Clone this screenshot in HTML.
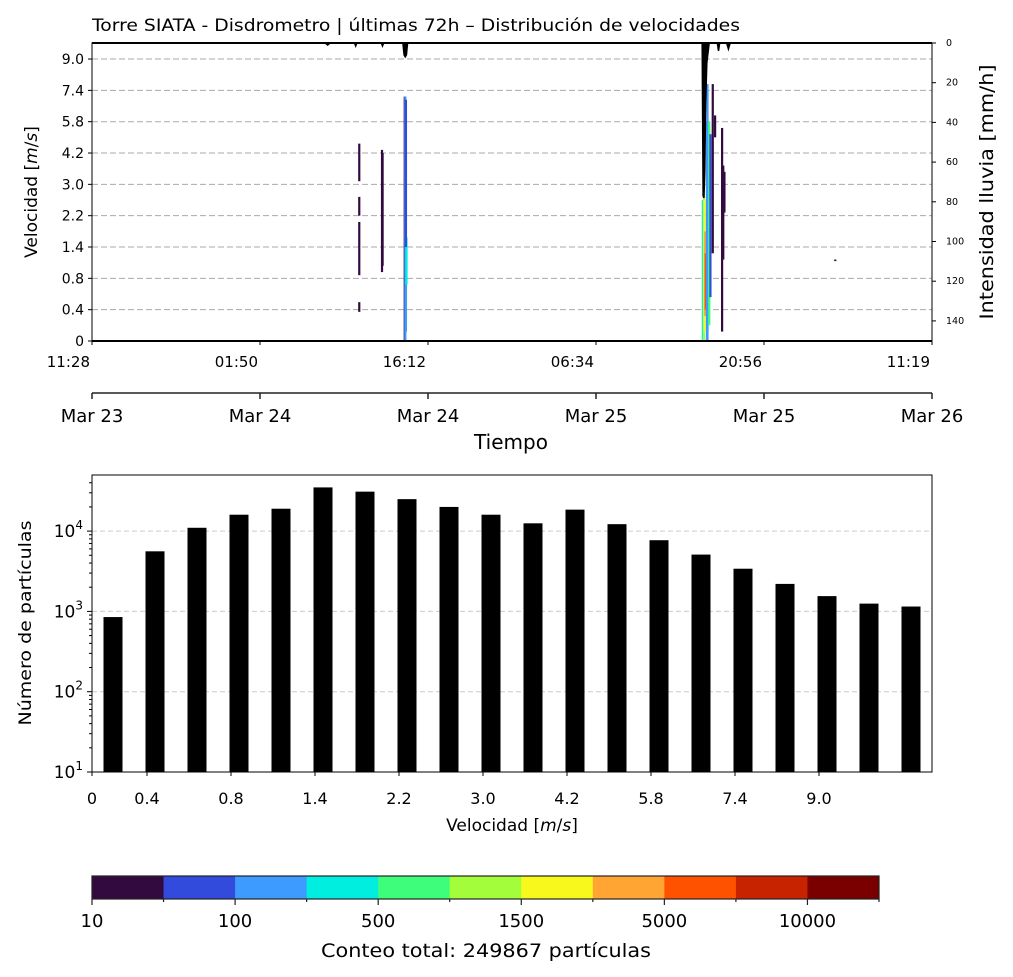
<!DOCTYPE html>
<html><head><meta charset="utf-8"><style>
html,body{margin:0;padding:0;background:#fff;}
svg{display:block;font-family:"DejaVu Sans","Liberation Sans",sans-serif;}
</style></head><body>
<svg id="fig" width="1013" height="977" viewBox="0 0 1013 977">
<g id="top"></g>
<g id="bot"></g>
<g id="cb"></g>
</svg>
<script>
// ---- data ----
const velBins = ["0","0.4","0.8","1.4","2.2","3.0","4.2","5.8","7.4","9.0"];
const rightTicks = [0,20,40,60,80,100,120,140];
const timeTicks = ["11:28","01:50","16:12","06:34","20:56","11:19"];
const dateTicks = ["Mar 23","Mar 24","Mar 24","Mar 25","Mar 25","Mar 26"];
// heatmap segments: hour (0..72), bin start, bin end (bin index), count
const segHour = [22.9,22.9,22.9,22.9,24.85,24.9,26.8,26.85,26.9,26.95,26.9,52.35,52.45,52.5,52.55,52.6,52.7,52.75,52.9,53.0,53.2,53.4,54.0,54.1,54.2,63.7];
const segLo   = [0.93,2.1,4.0,5.1,2.2,2.4,0,0,0.3,1.8,3.0,0,0,0.3,0.8,1.0,0,0,0.5,1.4,2.8,6.5,0.3,2.6,4.1,2.55];
const segHi   = [1.24,3.8,4.6,6.3,6.1,6.0,7.8,7.8,6.0,3.3,7.7,4.5,6.0,4.5,3.5,2.8,7.0,8.2,7.0,6.6,8.2,7.2,6.8,5.6,5.4,2.6];
const segCount= [20,20,20,20,20,20,20,120,150,300,60,300,1000,1600,3000,5500,200,150,600,50,40,20,20,20,20,20];
// rain intensity (mm/h) along time
const rainHour = [0,20,20.2,20.4,22.5,22.6,22.7,24.8,24.9,25,26.65,26.75,26.85,26.95,27.05,52.3,52.38,52.45,52.52,52.6,52.7,52.8,52.9,53.6,53.7,53.8,54.4,54.55,54.7,72];
const rainVal  = [0,0,1,0,0,1.5,0,0,1.5,0,0,6,7,6,0,0,77,78,65,30,10,5,0,0,4,0,0,3,0,0];
const histVals = [850,5600,11000,16000,19000,35000,31000,25000,20000,16000,12500,18500,12200,7700,5100,3400,2200,1550,1250,1150];
const histTickLabels = ["0","0.4","0.8","1.4","2.2","3.0","4.2","5.8","7.4","9.0"];
const cbColors = ["#330a3f","#334bdc","#3d9bff","#00eee0","#3efd7b","#a3fd3a","#f8f81c","#ffa533","#ff5200","#c72300","#7a0000"];
const cbLabels = ["10","100","500","1500","5000","10000"];
const cbLevels = [10,50,100,250,500,1000,1500,3000,5000,7500,10000];

const NS="http://www.w3.org/2000/svg";
function el(p,t,a,txt){const e=document.createElementNS(NS,t);for(const k in a)e.setAttribute(k,a[k]);if(txt!==undefined)e.textContent=txt;p.appendChild(e);return e;}

// ---- top chart ----
const T=document.getElementById('top');
const X0=92,X1=932,Y0=43,Y1=341;
const tx=h=>X0+h/72*(X1-X0);
const vy=b=>Y1-b*31.33;
const ry=v=>Y0+v*1.985;
velBins.forEach((lab,i)=>{
  const y=vy(i);
  if(i>0){const g=el(T,'line',{x1:X0,x2:X1,y1:y,y2:y,stroke:'#aaa','stroke-dasharray':'6,3','stroke-width':1});
  }
  el(T,'line',{x1:X0-4,x2:X0,y1:y,y2:y,stroke:'#000'});
  const t=el(T,'text',{x:X0-8,y:y+5,'text-anchor':'end','font-size':14},lab);
  
});
function colorFor(c){let k=0;for(let i=0;i<cbLevels.length;i++)if(c>=cbLevels[i])k=i;return cbColors[k];}
segHour.forEach((h,i)=>{
  const r=el(T,'rect',{x:tx(h)-1,width:2.2,y:vy(segHi[i]),height:vy(segLo[i])-vy(segHi[i]),fill:colorFor(segCount[i])});
  
});
let pts=rainHour.map((h,i)=>tx(h)+','+ry(rainVal[i])).join(' ');
const rl=el(T,'polyline',{points:pts,fill:'#000',stroke:'#000','stroke-width':1.5});

el(T,'rect',{x:X0,y:Y0,width:X1-X0,height:Y1-Y0,fill:'none',stroke:'#000','stroke-width':1});
el(T,'line',{x1:X0,x2:X1,y1:Y0,y2:Y0,stroke:'#000','stroke-width':2});
el(T,'line',{x1:X0,x2:X1,y1:Y1,y2:Y1,stroke:'#000','stroke-width':2});
rightTicks.forEach(v=>{const y=ry(v);el(T,'line',{x1:X1,x2:X1+4,y1:y,y2:y,stroke:'#000'});
  const t=el(T,'text',{x:X1+14,y:y+3,'font-size':9.5},v);});
timeTicks.forEach((l,i)=>{const xx=X0+i*(X1-X0)/5;
  el(T,'line',{x1:xx,x2:xx,y1:Y1,y2:Y1+4,stroke:'#000'});
  const t=el(T,'text',{x:xx-2,y:367,'text-anchor':'end','font-size':15},l);});
el(T,'line',{x1:X0,x2:X1,y1:393,y2:393,stroke:'#222','stroke-width':1.5});
dateTicks.forEach((l,i)=>{const x=X0+i*(X1-X0)/5;el(T,'line',{x1:x,x2:x,y1:393,y2:399,stroke:'#222','stroke-width':1.5});
  const t=el(T,'text',{x:x,y:422,'text-anchor':'middle','font-size':18},l);});
let t;
t=el(T,'text',{x:92,y:31,'font-size':17,textLength:648,lengthAdjust:'spacingAndGlyphs'},'Torre SIATA - Disdrometro | últimas 72h – Distribución de velocidades');
t=el(T,'text',{x:511,y:449,'text-anchor':'middle','font-size':20},'Tiempo');
t=el(T,'text',{x:0,y:0,'text-anchor':'middle','font-size':17,transform:'translate(37,192) rotate(-90)'});t.innerHTML='Velocidad [<tspan font-style="italic">m</tspan>/<tspan font-style="italic">s</tspan>]';
t=el(T,'text',{x:0,y:0,'text-anchor':'middle','font-size':19,transform:'translate(993,192) rotate(-90)',textLength:255,lengthAdjust:'spacingAndGlyphs'},'Intensidad lluvia [mm/h]');

// ---- histogram ----
const B=document.getElementById('bot');
const BX0=92,BX1=932,BY0=475,BY1=772;
const ly=v=>BY1-(Math.log10(v)-1)*80.3;
[100,1000,10000].forEach(v=>{const g=el(B,'line',{x1:BX0,x2:BX1,y1:ly(v),y2:ly(v),stroke:'#ccc','stroke-dasharray':'5,3'});});
histVals.forEach((v,i)=>{const cx=113+i*42;
  const r=el(B,'rect',{x:cx-9.5,width:19,y:ly(v),height:BY1-ly(v),fill:'#000'});
  });
el(B,'rect',{x:BX0,y:BY0,width:BX1-BX0,height:BY1-BY0,fill:'none',stroke:'#000'});
[1,2,3,4].forEach(e=>{const y=ly(Math.pow(10,e));el(B,'line',{x1:BX0-5,x2:BX0,y1:y,y2:y,stroke:'#000'});
  const tt=el(B,'text',{x:BX0-9,y:y+6,'text-anchor':'end','font-size':17});tt.innerHTML='10<tspan font-size="12" dy="-8">'+e+'</tspan>';
  
  for(let m=2;m<10&&e<5;m++){const v=m*Math.pow(10,e);if(ly(v)<BY0)break;el(B,'line',{x1:BX0-3,x2:BX0,y1:ly(v),y2:ly(v),stroke:'#000'});}});
histTickLabels.forEach((l,i)=>{const xx=i==0?92:(i==1?147:231+(i-2)*84);
  el(B,'line',{x1:xx,x2:xx,y1:BY1,y2:BY1+4,stroke:'#000'});
  const tt=el(B,'text',{x:xx,y:804,'text-anchor':'middle','font-size':16},l);});
t=el(B,'text',{x:512,y:831,'text-anchor':'middle','font-size':17});t.innerHTML='Velocidad [<tspan font-style="italic">m</tspan>/<tspan font-style="italic">s</tspan>]';
t=el(B,'text',{x:0,y:0,'text-anchor':'middle','font-size':17,transform:'translate(31,623) rotate(-90)',textLength:205,lengthAdjust:'spacingAndGlyphs'},'Número de partículas');

// ---- colorbar ----
const C=document.getElementById('cb');
const cw=(879-92)/11;
cbColors.forEach((c,i)=>{const r=el(C,'rect',{x:92+i*cw,y:876,width:cw+0.5,height:23,fill:c});});
el(C,'rect',{x:92,y:876,width:787,height:23,fill:'none',stroke:'#222','stroke-width':1.2});
for(let i=0;i<=11;i++){const x=92+i*cw;el(C,'line',{x1:x,x2:x,y1:899,y2:i%2?902:905,stroke:'#222','stroke-width':1.2});}
cbLabels.forEach((l,i)=>{const tt=el(C,'text',{x:92+2*i*cw,y:927,'text-anchor':'middle','font-size':18},l);});
t=el(C,'text',{x:486,y:957,'text-anchor':'middle','font-size':19,textLength:330,lengthAdjust:'spacingAndGlyphs'},'Conteo total: 249867 partículas');
</script>
</body></html>
